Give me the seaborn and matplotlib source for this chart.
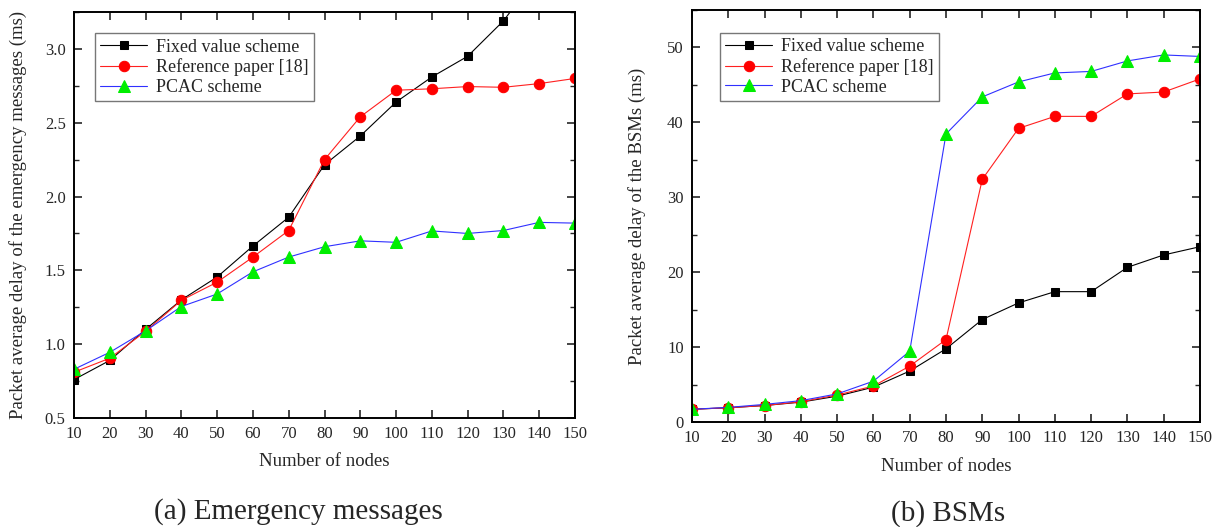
import matplotlib
matplotlib.use("Agg")
import matplotlib.pyplot as plt
from matplotlib.ticker import MultipleLocator
import seaborn as sns
import numpy as np

# ---------------- data ----------------
nodes = [10, 20, 30, 40, 50, 60, 70, 80, 90, 100, 110, 120, 130, 140, 150]

# (a) Emergency messages (ms)
em_fixed = [0.76, 0.89, 1.10, 1.30, 1.455, 1.665, 1.86, 2.215, 2.41, 2.64, 2.81, 2.95, 3.19, 3.51, 3.80]
em_ref = [0.81, 0.905, 1.087, 1.297, 1.42, 1.59, 1.77, 2.25, 2.54, 2.72, 2.73, 2.745, 2.74, 2.765, 2.80]
em_pcac = [0.83, 0.945, 1.09, 1.255, 1.34, 1.49, 1.59, 1.66, 1.70, 1.69, 1.767, 1.75, 1.77, 1.825, 1.82]

# (b) BSMs (ms)
bsm_fixed = [1.7, 1.9, 2.2, 2.65, 3.45, 4.65, 6.8, 9.77, 13.68, 15.9, 17.4, 17.4, 20.65, 22.3, 23.4]
bsm_ref = [1.7, 1.9, 2.2, 2.7, 3.6, 4.8, 7.46, 11.0, 32.4, 39.2, 40.8, 40.8, 43.8, 44.05, 45.8]
bsm_pcac = [1.7, 1.95, 2.35, 2.85, 3.75, 5.45, 9.45, 38.45, 43.4, 45.4, 46.6, 46.8, 48.2, 49.0, 48.8]

series_names = ["Fixed value scheme", "Reference paper [18]", "PCAC scheme"]
xlabel = "Number of nodes"
ylabel_a = "Packet average delay of the emergency messages (ms)"
ylabel_b = "Packet average delay of the BSMs (ms)"
caption_a = "(a) Emergency messages"
caption_b = "(b) BSMs"

# ---------------- style ----------------
sns.set_style("ticks")
plt.rcParams["font.family"] = ["Liberation Serif", "DejaVu Serif"]
plt.rcParams["mathtext.fontset"] = "stix"

W, H = 1220, 527
fig = plt.figure(figsize=(W / 100, H / 100), dpi=100)

def axes_px(l, r, t, b):
    return fig.add_axes([l / W, 1 - b / H, (r - l) / W, (b - t) / H])

ax1 = axes_px(74, 575, 12, 418)
ax2 = axes_px(692, 1200, 10, 422)

styles = [
    dict(color="black", marker="s", markerfacecolor="black", markeredgecolor="black", markersize=6.0),
    dict(color="#ff2020", marker="o", markerfacecolor="red", markeredgecolor="red", markersize=7.5),
    dict(color="#3030ff", marker="^", markerfacecolor="#00ee00", markeredgecolor="#00ee00", markersize=8.0),
]

def draw(ax, data, ylim, ymajor, yminor, ylabel, legend_anchor, ylab_x, xlab_y):
    for name, vals, st in zip(series_names, data, styles):
        sns.lineplot(x=nodes, y=vals, ax=ax, label=name, linewidth=0.8, **st)
    ax.set_xlim(10, 150)
    ax.set_ylim(*ylim)
    ax.set_xticks(nodes)
    ax.yaxis.set_major_locator(MultipleLocator(ymajor))
    ax.yaxis.set_minor_locator(MultipleLocator(yminor))
    ax.tick_params(which="both", direction="in", top=True, right=True, labelsize=12)
    ax.tick_params(which="major", length=6, width=1.2, pad=6)
    ax.tick_params(which="minor", length=3.5, width=1.0)
    ax.tick_params(axis="x", which="minor", top=False, bottom=False)
    for sp in ax.spines.values():
        sp.set_linewidth(1.4)
        sp.set_color("black")
    ax.set_xlabel(xlabel, fontsize=13.5)
    ax.set_ylabel(ylabel, fontsize=13.5)
    ax.yaxis.set_label_coords(ylab_x, 0.5)
    ax.xaxis.set_label_coords(0.5, xlab_y)
    leg = ax.legend(loc="upper left", bbox_to_anchor=legend_anchor, fontsize=13,
                    frameon=True, fancybox=False, edgecolor="#555555",
                    handlelength=2.6, borderpad=0.3, labelspacing=0.15,
                    handletextpad=0.5, borderaxespad=0.0)
    leg.get_frame().set_linewidth(1.0)

draw(ax1, [em_fixed, em_ref, em_pcac], (0.5, 3.25), 0.5, 0.25, ylabel_a, (0.042, 0.948), -0.093, -0.086)
draw(ax2, [bsm_fixed, bsm_ref, bsm_pcac], (0, 55), 10, 5, ylabel_b, (0.055, 0.944), -0.091, -0.087)

ax1.set_yticks(np.arange(0.5, 3.01, 0.5))
ax1.set_yticklabels([f"{v:.1f}" for v in np.arange(0.5, 3.01, 0.5)])

fig.text(298 / W, 1 - 512 / H, caption_a, fontsize=21, ha="center", va="center")
fig.text(948 / W, 1 - 514 / H, caption_b, fontsize=21, ha="center", va="center")

fig.savefig("out.png", dpi=100)
